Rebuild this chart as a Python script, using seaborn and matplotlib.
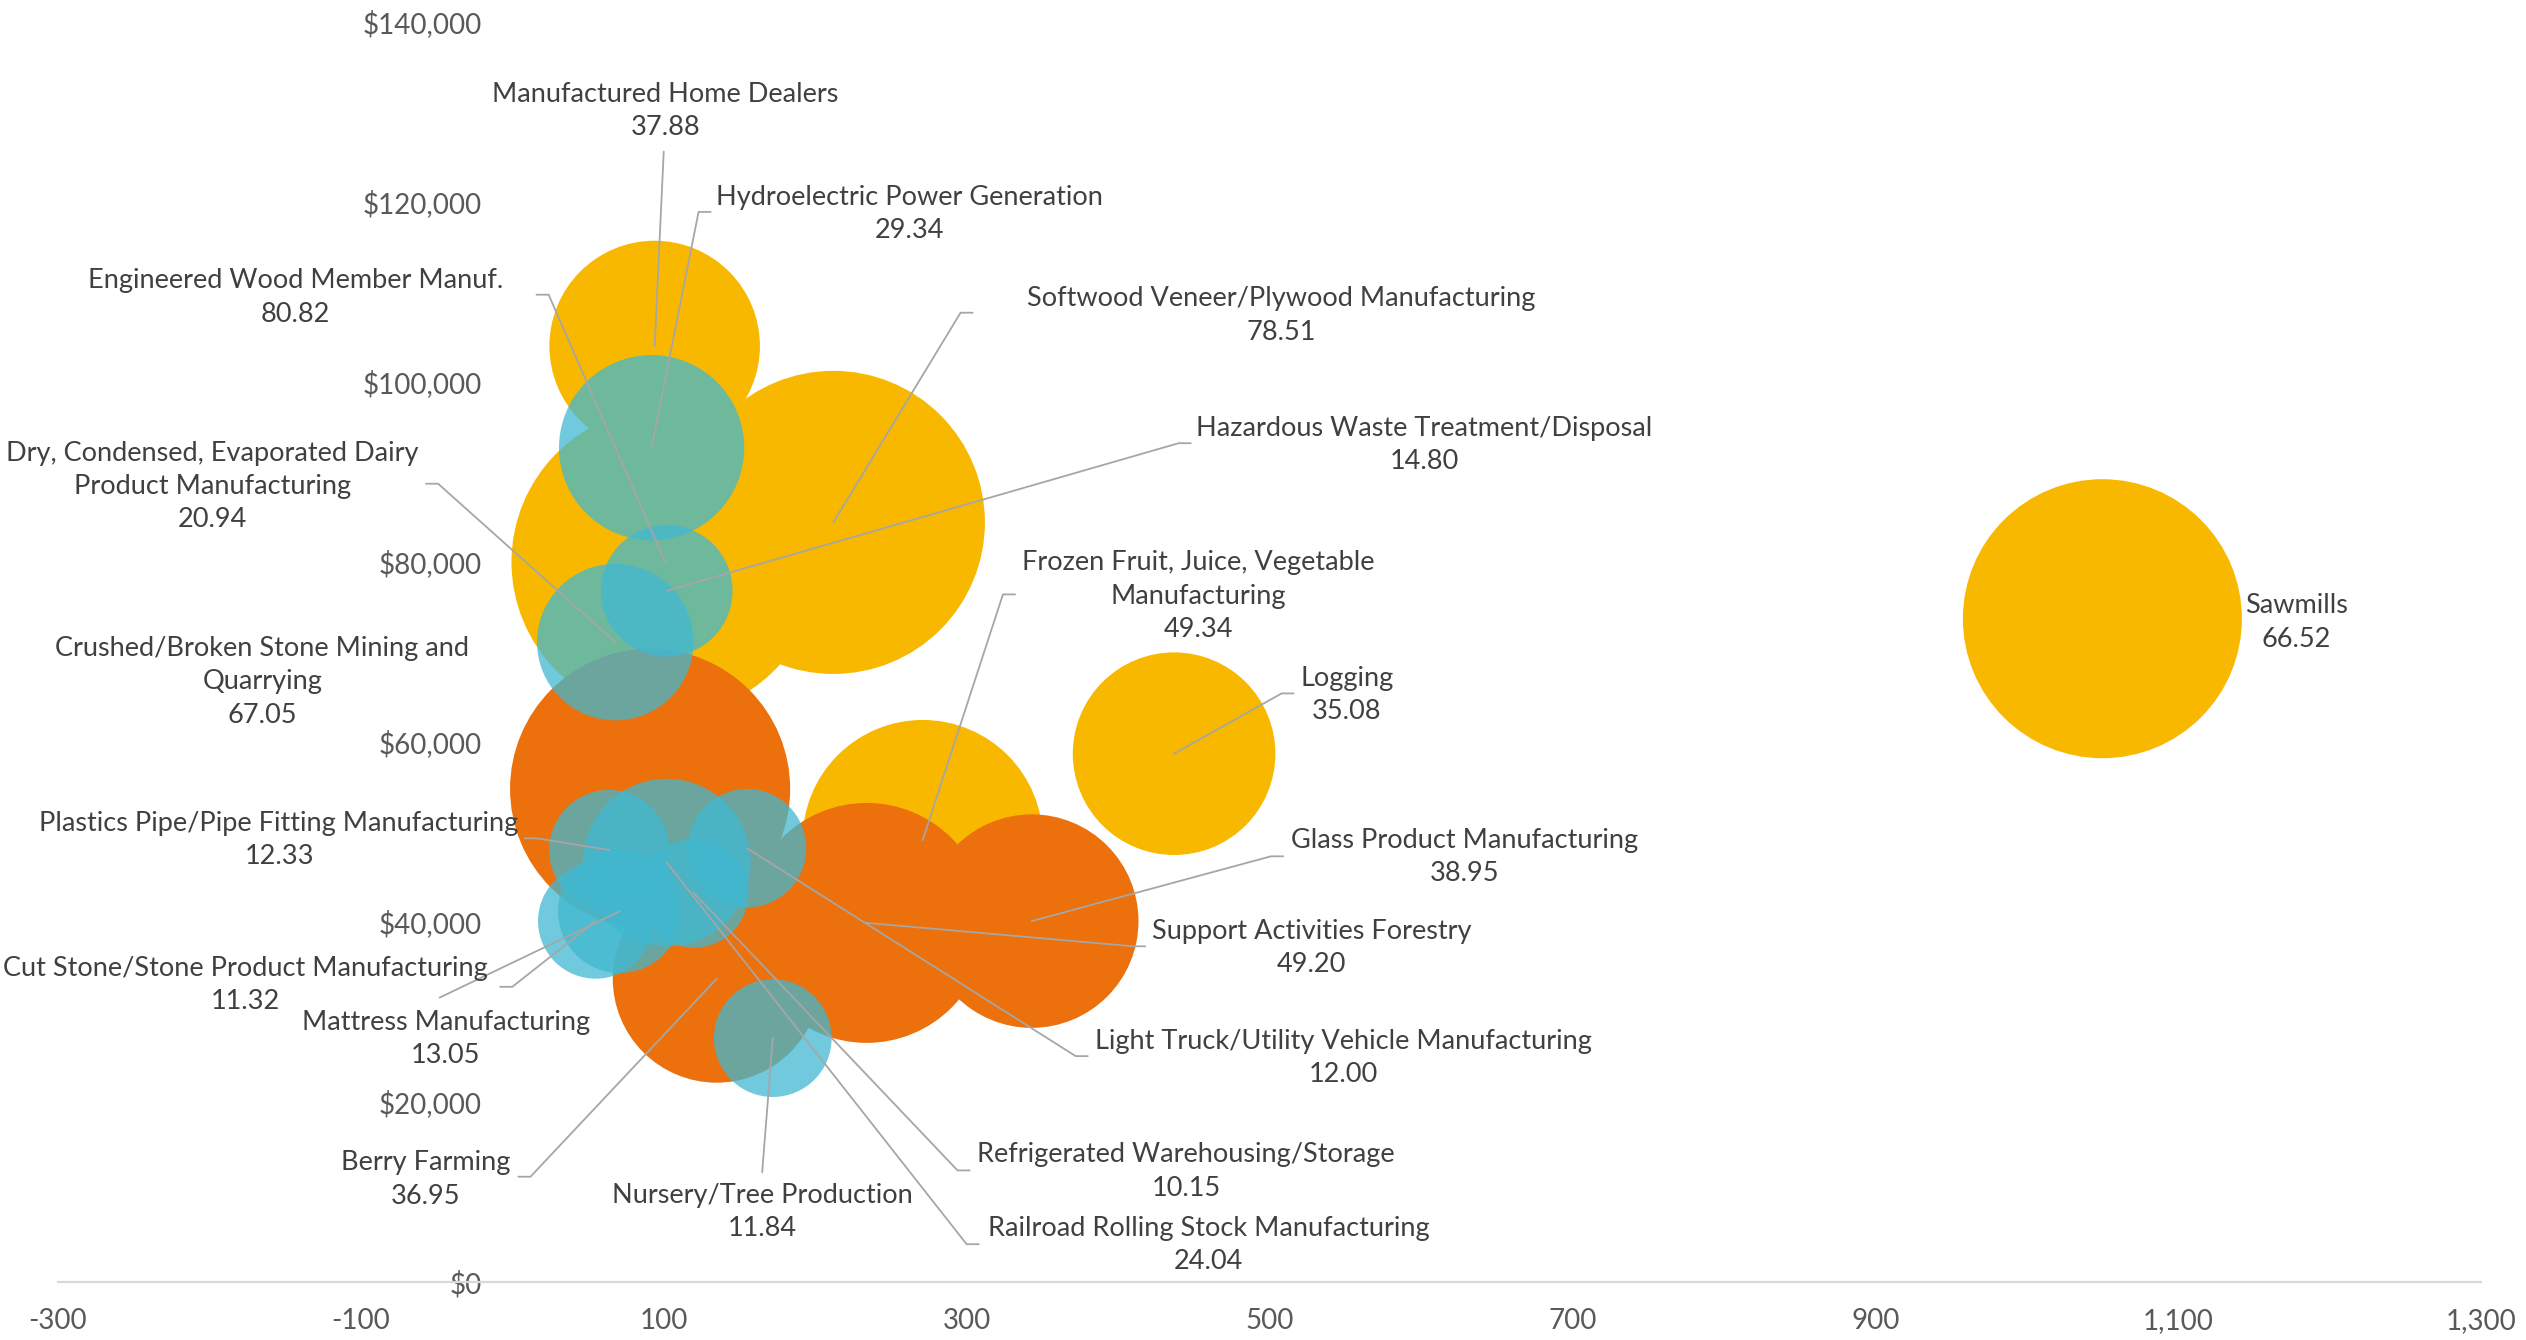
import numpy as np
import pandas as pd
import matplotlib
matplotlib.use("Agg")
import matplotlib.pyplot as plt
import seaborn as sns

# bubble data: x position, average pay, bubble value, colour group
industries = [
    "Sawmills", "Logging", "Manufactured Home Dealers", "Engineered Wood Member Manuf.",
    "Softwood Veneer/Plywood Manufacturing", "Frozen Fruit, Juice, Vegetable Manufacturing",
    "Crushed/Broken Stone Mining and Quarrying", "Berry Farming",
    "Support Activities Forestry", "Glass Product Manufacturing",
    "Hydroelectric Power Generation", "Hazardous Waste Treatment/Disposal",
    "Dry, Condensed, Evaporated Dairy Product Manufacturing",
    "Plastics Pipe/Pipe Fitting Manufacturing", "Railroad Rolling Stock Manufacturing",
    "Refrigerated Warehousing/Storage", "Light Truck/Utility Vehicle Manufacturing",
    "Mattress Manufacturing", "Cut Stone/Stone Product Manufacturing",
    "Nursery/Tree Production",
]
x_vals = [1050, 437, 94, 101, 212, 271, 91, 135, 234, 343,
          92, 102, 68, 64, 102, 120, 155, 71, 55, 172]
pay = [73700, 58700, 104000, 80000, 84400, 49100, 54800, 33700, 39900, 40100,
       92700, 76800, 71100, 48000, 46600, 43200, 48200, 41200, 40100, 27100]
bubble_vals = [66.52, 35.08, 37.88, 80.82, 78.51, 49.34, 67.05, 36.95, 49.20, 38.95,
               29.34, 14.80, 20.94, 12.33, 24.04, 10.15, 12.00, 13.05, 11.32, 11.84]
series = ["gold"] * 6 + ["orange"] * 4 + ["blue"] * 10

# label text shown (with Excel-style wraps)
label_names = [
    "Sawmills", "Logging", "Manufactured Home Dealers", "Engineered Wood Member Manuf.",
    "Softwood Veneer/Plywood Manufacturing", "Frozen Fruit, Juice, Vegetable\nManufacturing",
    "Crushed/Broken Stone Mining and\nQuarrying", "Berry Farming",
    "Support Activities Forestry", "Glass Product Manufacturing",
    "Hydroelectric Power Generation", "Hazardous Waste Treatment/Disposal",
    "Dry, Condensed, Evaporated Dairy\nProduct Manufacturing",
    "Plastics Pipe/Pipe Fitting Manufacturing", "Railroad Rolling Stock Manufacturing",
    "Refrigerated Warehousing/Storage", "Light Truck/Utility Vehicle Manufacturing",
    "Mattress Manufacturing", "Cut Stone/Stone Product Manufacturing",
    "Nursery/Tree Production",
]

# label layout (data coords): text centre, leader start, stub flag
label_xy = [(1178, 73300), (551, 65200), (101, 130100), (-143, 109400),
            (508, 107400), (453, 76200), (-165, 66700), (-57, 11400),
            (528, 37100), (629, 47200), (262, 118700), (602, 93000),
            (-198, 88400), (-154, 49100), (460, 4100), (445, 12300),
            (549, 24900), (-44, 27000), (-176, 33000), (165, 7800)]
leader_xy = [None, (516, 65400), (100, 125600), (16, 109700),
             (304, 107700), (332, 76400), None, (4, 11700),
             (418, 37300), (509, 47300), (131, 118900), (448, 93200),
             (-57, 88700), (8, 49300), (308, 4200), (302, 12400),
             (380, 25100), (-48, 31600), (-8, 32800), (165, 12200)]
leader_stub = [0, 1, 0, 1, 1, 1, 0, 1, 1, 1, 1, 1, 1, 1, 1, 1, 1, 0, 1, 0]

df = pd.DataFrame({"industry": industries, "x": x_vals, "pay": pay,
                   "value": bubble_vals, "series": series})

colors = {"gold": ("#F9B800", 1.0), "orange": ("#EC700B", 1.0), "blue": ("#40B8D1", 0.75)}

sns.set_theme(style="white")
plt.rcParams["font.family"] = ["Lato", "DejaVu Sans"]

fig = plt.figure(figsize=(25.26, 13.40), dpi=100)
ax = fig.add_axes([0.02296, 0.04328, 0.95922, 0.9403])

vmax = max(bubble_vals)
s_per_unit = 606.7  # marker area (pt^2) per bubble unit
for i, (grp, (col, a)) in enumerate(colors.items()):
    sns.scatterplot(data=df[df["series"] == grp], x="x", y="pay", size="value",
                    sizes=(0, vmax * s_per_unit), size_norm=(0, vmax),
                    color=col, alpha=a, edgecolor="none", linewidth=0,
                    legend=False, ax=ax, zorder=2 + i)

text_col = "#404040"
line_col = "#A6A6A6"
for i in range(len(industries)):
    tx, ty = label_xy[i]
    ax.text(tx, ty, f"{label_names[i]}\n{bubble_vals[i]:.2f}", ha="center", va="center",
            fontsize=19.5, color=text_col, linespacing=1.42, zorder=6)
    if leader_xy[i] is None:
        continue
    lx, ly = leader_xy[i]
    px, py = x_vals[i], pay[i]
    if leader_stub[i]:
        sx = lx + 8 * np.sign(px - lx)
        ax.plot([lx, sx, px], [ly, ly, py], color=line_col, lw=1.3, zorder=5)
    else:
        ax.plot([lx, px], [ly, py], color=line_col, lw=1.3, zorder=5)

ax.set_xlim(-300, 1300)
ax.set_ylim(0, 140000)
xt = list(range(-300, 1301, 200))
ax.set_xticks(xt)
ax.set_xticklabels([f"{v:,}" for v in xt])
yt = list(range(0, 140001, 20000))
ax.set_yticks(yt)
ax.set_yticklabels([f"${v:,}" for v in yt])
ax.set_xlabel("")
ax.set_ylabel("")

for side in ["top", "right"]:
    ax.spines[side].set_visible(False)
ax.spines["left"].set_position(("data", 0))
ax.spines["left"].set_visible(False)
ax.spines["bottom"].set_color("#D9D9D9")
ax.spines["bottom"].set_linewidth(1.6)
ax.tick_params(axis="both", length=0, labelsize=20, labelcolor="#595959")
ax.tick_params(axis="y", pad=22)
ax.tick_params(axis="x", pad=19)
ax.grid(False)

fig.savefig("out.png", dpi=100, facecolor="white")
